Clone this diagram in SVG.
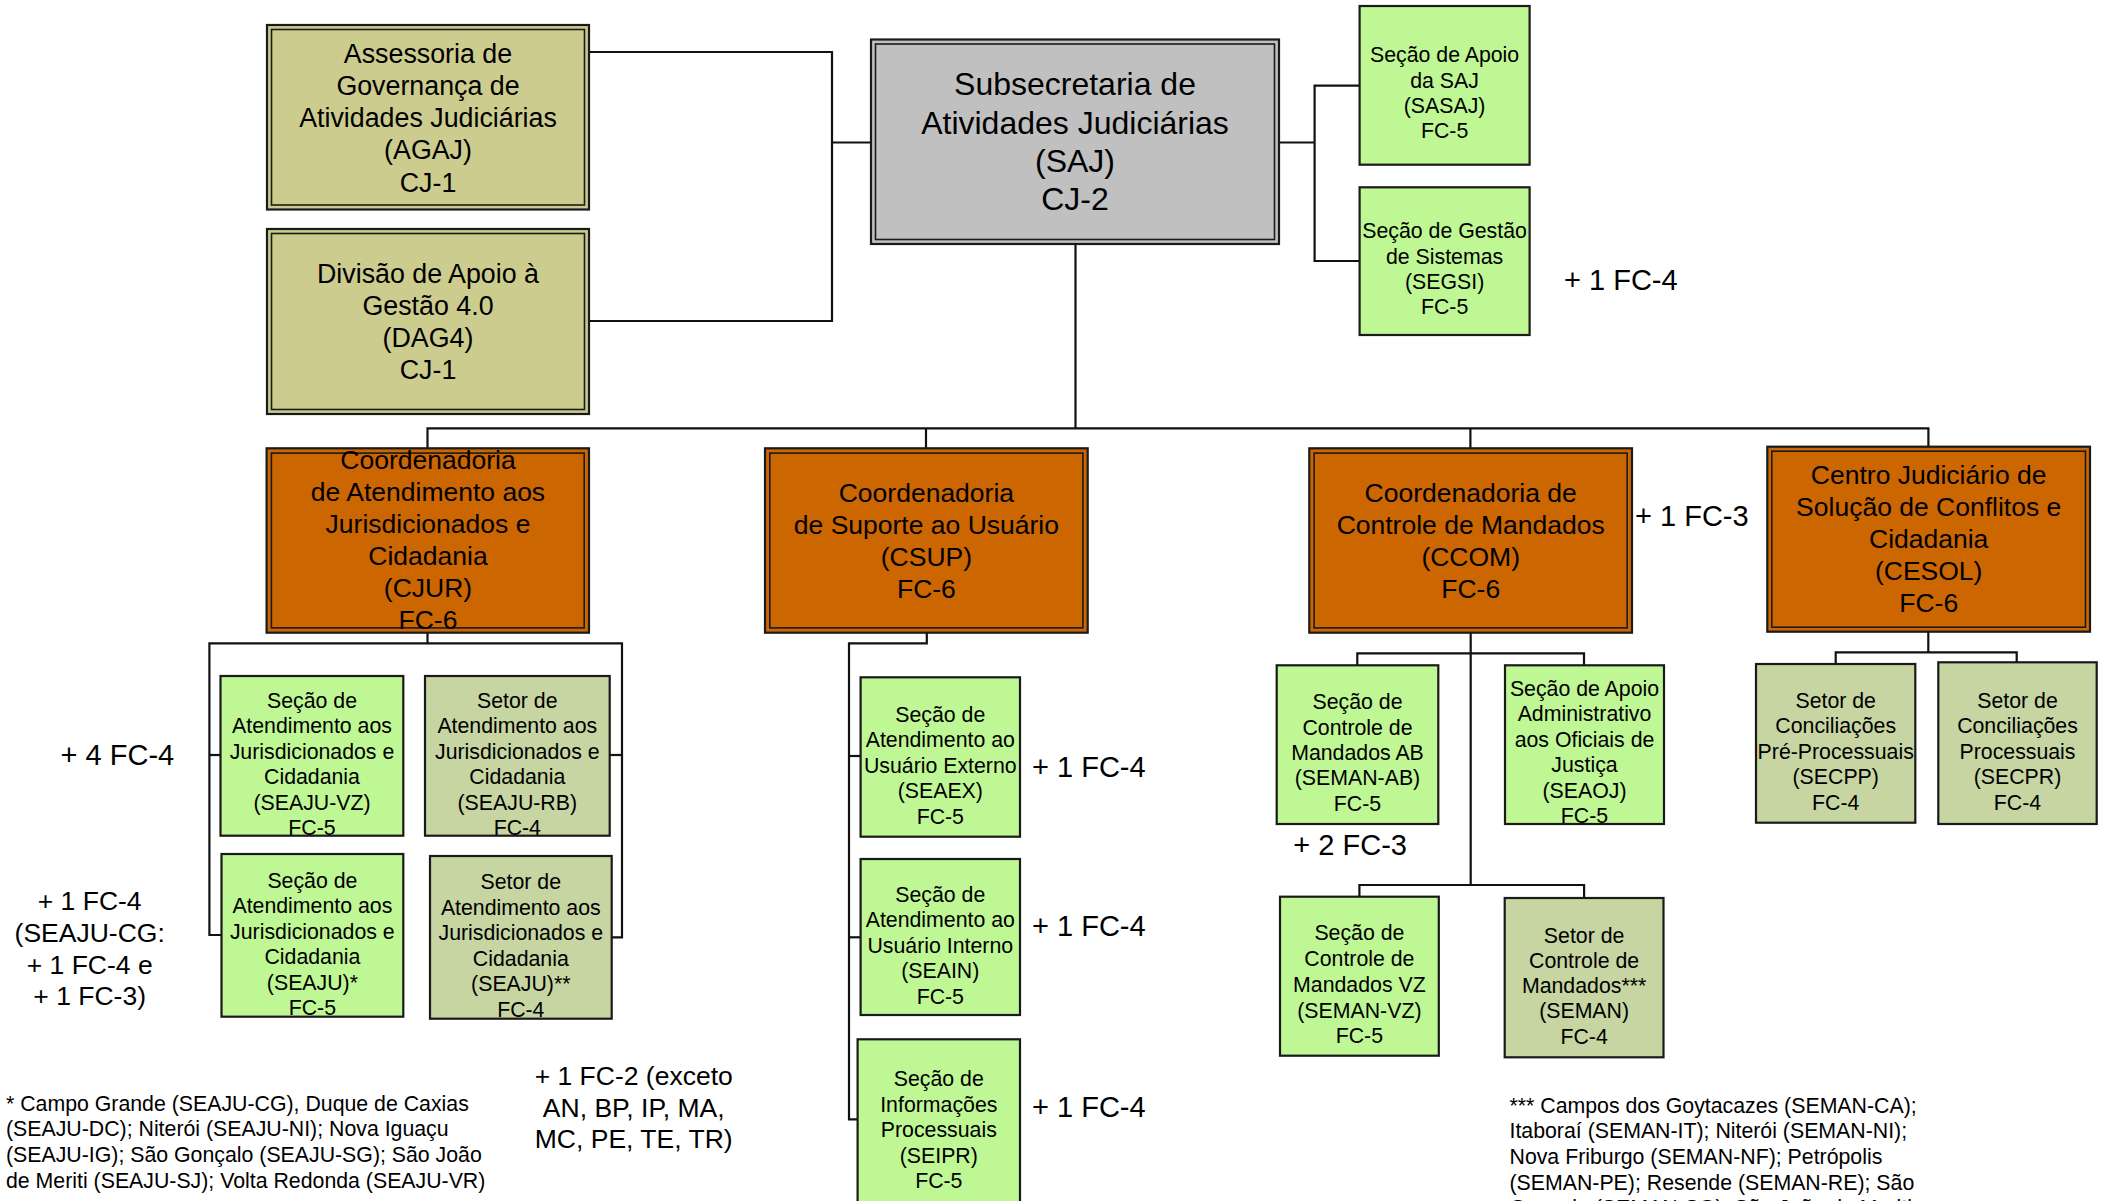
<svg xmlns="http://www.w3.org/2000/svg" width="2107" height="1201" viewBox="0 0 2107 1201">
<style>
text{font-family:"Liberation Sans",Arial,sans-serif;fill:#000}
.c{text-anchor:middle}
.f32{font-size:32px}
.f27{font-size:26.8px}
.f26{font-size:26.5px}
.f29{font-size:29px}
.f21{font-size:21.3px}
.dbl{stroke:#1a1a1a;stroke-width:2.2}
.inn{fill:none;stroke:#1a1a1a;stroke-width:1.6}
.box{stroke:#1a1a1a;stroke-width:2.2}
.khaki{fill:#cccc8f}
.gray{fill:#c0c0c0}
.orange{fill:#cc6600}
.green{fill:#bff795}
.olive{fill:#c6d5a1}
#connectors path{fill:none;stroke:#111;stroke-width:2.2}
</style>
<rect width="2107" height="1201" fill="#fff"/>
<g id="connectors">
<path d="M589,52 H832 V321 H589"/>
<path d="M832,142.5 H871"/>
<path d="M1279,142.5 H1314.6"/>
<path d="M1359.6,85.7 H1314.6 V261 H1359.6"/>
<path d="M1075.5,244 V428.3"/>
<path d="M427.5,448 V428.3 H1928.4 V447"/>
<path d="M926,428.3 V448"/>
<path d="M1470.4,428.3 V448"/>
<path d="M427.5,632.7 V643.3"/>
<path d="M221.5,935 H209.4 V643.3 H622 V937.3 H611.7"/>
<path d="M209.4,755 H220.5"/>
<path d="M622,755 H609.7"/>
<path d="M926.8,632.7 V643.3 H849 V1119.3 H857.6"/>
<path d="M849,756 H860.6"/>
<path d="M849,937.3 H860.6"/>
<path d="M1470.7,632.7 V885"/>
<path d="M1357.3,665.3 V653.3 H1584 V665.3"/>
<path d="M1359.4,896.7 V885 H1584.1 V898"/>
<path d="M1928.3,631.7 V652.3"/>
<path d="M1835.7,664 V652.3 H2016.7 V662.3"/>
</g>
<g id="agaj">
<rect class="dbl khaki" x="267" y="25" width="322" height="184.5"/>
<rect class="inn" x="271.5" y="29.5" width="313" height="175.5"/>
<text class="c f27" x="428" y="62.5">Assessoria de</text>
<text class="c f27" x="428" y="94.8">Governança de</text>
<text class="c f27" x="428" y="127.1">Atividades Judiciárias</text>
<text class="c f27" x="428" y="159.4">(AGAJ)</text>
<text class="c f27" x="428" y="191.7">CJ-1</text>
</g>
<g id="dag4">
<rect class="dbl khaki" x="267" y="229" width="322" height="185"/>
<rect class="inn" x="271.5" y="233.5" width="313" height="176"/>
<text class="c f27" x="428" y="282.5">Divisão de Apoio à</text>
<text class="c f27" x="428" y="314.7">Gestão 4.0</text>
<text class="c f27" x="428" y="346.9">(DAG4)</text>
<text class="c f27" x="428" y="379.1">CJ-1</text>
</g>
<g id="saj">
<rect class="dbl gray" x="871" y="39.5" width="408" height="204.5"/>
<rect class="inn" x="875.5" y="44" width="399" height="195.5"/>
<text class="c f32" x="1075" y="95.2">Subsecretaria de</text>
<text class="c f32" x="1075" y="133.6">Atividades Judiciárias</text>
<text class="c f32" x="1075" y="172">(SAJ)</text>
<text class="c f32" x="1075" y="210.4">CJ-2</text>
</g>
<g id="sasaj">
<rect class="box green" x="1359.6" y="6" width="170" height="158.7"/>
<text class="c f21" x="1444.6" y="62.4">Seção de Apoio</text>
<text class="c f21" x="1444.6" y="87.6">da SAJ</text>
<text class="c f21" x="1444.6" y="112.8">(SASAJ)</text>
<text class="c f21" x="1444.6" y="138">FC-5</text>
</g>
<g id="segsi">
<rect class="box green" x="1359.6" y="187.3" width="170" height="147.7"/>
<text class="c f21" x="1444.6" y="238.4">Seção de Gestão</text>
<text class="c f21" x="1444.6" y="263.6">de Sistemas</text>
<text class="c f21" x="1444.6" y="288.8">(SEGSI)</text>
<text class="c f21" x="1444.6" y="314">FC-5</text>
</g>
<text class="f29" x="1564" y="289.5">+ 1 FC-4</text>
<g id="cjur">
<rect class="dbl orange" x="266.6" y="448.3" width="322.4" height="184.4"/>
<rect class="inn" x="271.4" y="453.1" width="312.8" height="174.8"/>
<text class="c f26" x="428" y="469.3">Coordenadoria</text>
<text class="c f26" x="428" y="501.3">de Atendimento aos</text>
<text class="c f26" x="428" y="533.3">Jurisdicionados e</text>
<text class="c f26" x="428" y="565.3">Cidadania</text>
<text class="c f26" x="428" y="597.3">(CJUR)</text>
<text class="c f26" x="428" y="629.3">FC-6</text>
</g>
<g id="csup">
<rect class="dbl orange" x="765" y="448.3" width="322.7" height="184.4"/>
<rect class="inn" x="769.8" y="453.1" width="313.1" height="174.8"/>
<text class="c f26" x="926.4" y="501.8">Coordenadoria</text>
<text class="c f26" x="926.4" y="533.8">de Suporte ao Usuário</text>
<text class="c f26" x="926.4" y="565.8">(CSUP)</text>
<text class="c f26" x="926.4" y="597.8">FC-6</text>
</g>
<g id="ccom">
<rect class="dbl orange" x="1309.3" y="448.3" width="322.7" height="184.4"/>
<rect class="inn" x="1314.1" y="453.1" width="313.1" height="174.8"/>
<text class="c f26" x="1470.7" y="501.8">Coordenadoria de</text>
<text class="c f26" x="1470.7" y="533.8">Controle de Mandados</text>
<text class="c f26" x="1470.7" y="565.8">(CCOM)</text>
<text class="c f26" x="1470.7" y="597.8">FC-6</text>
</g>
<text class="f29" x="1635" y="526.2">+ 1 FC-3</text>
<g id="cesol">
<rect class="dbl orange" x="1767.3" y="446.7" width="322.7" height="185"/>
<rect class="inn" x="1771.8" y="451.2" width="313.7" height="176"/>
<text class="c f26" x="1928.7" y="484.3">Centro Judiciário de</text>
<text class="c f26" x="1928.7" y="516.3">Solução de Conflitos e</text>
<text class="c f26" x="1928.7" y="548.3">Cidadania</text>
<text class="c f26" x="1928.7" y="580.3">(CESOL)</text>
<text class="c f26" x="1928.7" y="612.3">FC-6</text>
</g>
<g id="seaju-vz">
<rect class="box green" x="220.5" y="676" width="182.8" height="159.7"/>
<text class="c f21" x="312" y="707.5">Seção de</text>
<text class="c f21" x="312" y="733">Atendimento aos</text>
<text class="c f21" x="312" y="758.5">Jurisdicionados e</text>
<text class="c f21" x="312" y="784">Cidadania</text>
<text class="c f21" x="312" y="809.5">(SEAJU-VZ)</text>
<text class="c f21" x="312" y="835">FC-5</text>
</g>
<g id="seaju-rb">
<rect class="box olive" x="425" y="676" width="184.7" height="159.7"/>
<text class="c f21" x="517.3" y="707.5">Setor de</text>
<text class="c f21" x="517.3" y="733">Atendimento aos</text>
<text class="c f21" x="517.3" y="758.5">Jurisdicionados e</text>
<text class="c f21" x="517.3" y="784">Cidadania</text>
<text class="c f21" x="517.3" y="809.5">(SEAJU-RB)</text>
<text class="c f21" x="517.3" y="835">FC-4</text>
</g>
<g id="seaju">
<rect class="box green" x="221.5" y="854" width="181.8" height="162.7"/>
<text class="c f21" x="312.4" y="887.5">Seção de</text>
<text class="c f21" x="312.4" y="913">Atendimento aos</text>
<text class="c f21" x="312.4" y="938.5">Jurisdicionados e</text>
<text class="c f21" x="312.4" y="964">Cidadania</text>
<text class="c f21" x="312.4" y="989.5">(SEAJU)*</text>
<text class="c f21" x="312.4" y="1015">FC-5</text>
</g>
<g id="seaju-setor">
<rect class="box olive" x="430" y="856" width="181.7" height="162.7"/>
<text class="c f21" x="520.8" y="889.2">Setor de</text>
<text class="c f21" x="520.8" y="914.7">Atendimento aos</text>
<text class="c f21" x="520.8" y="940.2">Jurisdicionados e</text>
<text class="c f21" x="520.8" y="965.7">Cidadania</text>
<text class="c f21" x="520.8" y="991.2">(SEAJU)**</text>
<text class="c f21" x="520.8" y="1016.7">FC-4</text>
</g>
<text class="f29" x="60.6" y="765.2">+ 4 FC-4</text>
<text class="c f26" x="89.7" y="910.3">+ 1 FC-4</text>
<text class="c f26" x="89.7" y="942">(SEAJU-CG:</text>
<text class="c f26" x="89.7" y="973.7">+ 1 FC-4 e</text>
<text class="c f26" x="89.7" y="1005.4">+ 1 FC-3)</text>
<text class="c f26" x="633.7" y="1085.3">+ 1 FC-2 (exceto</text>
<text class="c f26" x="633.7" y="1116.8">AN, BP, IP, MA,</text>
<text class="c f26" x="633.7" y="1148.3">MC, PE, TE, TR)</text>
<text class="f21" x="6" y="1110.8">* Campo Grande (SEAJU-CG), Duque de Caxias</text>
<text class="f21" x="6" y="1136.4">(SEAJU-DC); Niterói (SEAJU-NI); Nova Iguaçu</text>
<text class="f21" x="6" y="1162">(SEAJU-IG); São Gonçalo (SEAJU-SG); São João</text>
<text class="f21" x="6" y="1187.6">de Meriti (SEAJU-SJ); Volta Redonda (SEAJU-VR)</text>
<g id="seaex">
<rect class="box green" x="860.6" y="677.3" width="159.4" height="159.4"/>
<text class="c f21" x="940.3" y="721.5">Seção de</text>
<text class="c f21" x="940.3" y="747">Atendimento ao</text>
<text class="c f21" x="940.3" y="772.5">Usuário Externo</text>
<text class="c f21" x="940.3" y="798">(SEAEX)</text>
<text class="c f21" x="940.3" y="823.5">FC-5</text>
</g>
<g id="seain">
<rect class="box green" x="860.6" y="859" width="159.4" height="156"/>
<text class="c f21" x="940.3" y="901.5">Seção de</text>
<text class="c f21" x="940.3" y="927">Atendimento ao</text>
<text class="c f21" x="940.3" y="952.5">Usuário Interno</text>
<text class="c f21" x="940.3" y="978">(SEAIN)</text>
<text class="c f21" x="940.3" y="1003.5">FC-5</text>
</g>
<g id="seipr">
<rect class="box green" x="857.6" y="1039.3" width="162.4" height="164"/>
<text class="c f21" x="938.8" y="1086.2">Seção de</text>
<text class="c f21" x="938.8" y="1111.7">Informações</text>
<text class="c f21" x="938.8" y="1137.2">Processuais</text>
<text class="c f21" x="938.8" y="1162.7">(SEIPR)</text>
<text class="c f21" x="938.8" y="1188.2">FC-5</text>
</g>
<text class="f29" x="1032" y="776.9">+ 1 FC-4</text>
<text class="f29" x="1032" y="936.2">+ 1 FC-4</text>
<text class="f29" x="1032" y="1116.9">+ 1 FC-4</text>
<g id="seman-ab">
<rect class="box green" x="1276.7" y="665.3" width="161.6" height="158.7"/>
<text class="c f21" x="1357.5" y="709.2">Seção de</text>
<text class="c f21" x="1357.5" y="734.6">Controle de</text>
<text class="c f21" x="1357.5" y="760">Mandados AB</text>
<text class="c f21" x="1357.5" y="785.4">(SEMAN-AB)</text>
<text class="c f21" x="1357.5" y="810.8">FC-5</text>
</g>
<g id="seaoj">
<rect class="box green" x="1505" y="665.3" width="159" height="158.7"/>
<text class="c f21" x="1584.5" y="695.8">Seção de Apoio</text>
<text class="c f21" x="1584.5" y="721.3">Administrativo</text>
<text class="c f21" x="1584.5" y="746.8">aos Oficiais de</text>
<text class="c f21" x="1584.5" y="772.3">Justiça</text>
<text class="c f21" x="1584.5" y="797.8">(SEAOJ)</text>
<text class="c f21" x="1584.5" y="823.3">FC-5</text>
</g>
<text class="f29" x="1293.3" y="855.2">+ 2 FC-3</text>
<g id="seman-vz">
<rect class="box green" x="1280" y="896.7" width="158.8" height="159"/>
<text class="c f21" x="1359.4" y="940.2">Seção de</text>
<text class="c f21" x="1359.4" y="966">Controle de</text>
<text class="c f21" x="1359.4" y="991.8">Mandados VZ</text>
<text class="c f21" x="1359.4" y="1017.6">(SEMAN-VZ)</text>
<text class="c f21" x="1359.4" y="1043.4">FC-5</text>
</g>
<g id="seman">
<rect class="box olive" x="1504.7" y="898" width="158.8" height="159.3"/>
<text class="c f21" x="1584.1" y="942.5">Setor de</text>
<text class="c f21" x="1584.1" y="967.8">Controle de</text>
<text class="c f21" x="1584.1" y="993.1">Mandados***</text>
<text class="c f21" x="1584.1" y="1018.4">(SEMAN)</text>
<text class="c f21" x="1584.1" y="1043.7">FC-4</text>
</g>
<text class="f21" x="1509.5" y="1112.5">*** Campos dos Goytacazes (SEMAN-CA);</text>
<text class="f21" x="1509.5" y="1138.2">Itaboraí (SEMAN-IT); Niterói (SEMAN-NI);</text>
<text class="f21" x="1509.5" y="1163.9">Nova Friburgo (SEMAN-NF); Petrópolis</text>
<text class="f21" x="1509.5" y="1189.6">(SEMAN-PE); Resende (SEMAN-RE); São</text>
<text class="f21" x="1509.5" y="1215.3">Gonçalo (SEMAN-SG); São João de Meriti</text>
<g id="secpp">
<rect class="box olive" x="1756" y="664" width="159.3" height="158.7"/>
<text class="c f21" x="1835.7" y="707.5">Setor de</text>
<text class="c f21" x="1835.7" y="733.1">Conciliações</text>
<text class="c f21" x="1835.7" y="758.7">Pré-Processuais</text>
<text class="c f21" x="1835.7" y="784.3">(SECPP)</text>
<text class="c f21" x="1835.7" y="809.9">FC-4</text>
</g>
<g id="secpr">
<rect class="box olive" x="1938.3" y="662.3" width="158.4" height="161.7"/>
<text class="c f21" x="2017.5" y="707.5">Setor de</text>
<text class="c f21" x="2017.5" y="733.1">Conciliações</text>
<text class="c f21" x="2017.5" y="758.7">Processuais</text>
<text class="c f21" x="2017.5" y="784.3">(SECPR)</text>
<text class="c f21" x="2017.5" y="809.9">FC-4</text>
</g>
</svg>
